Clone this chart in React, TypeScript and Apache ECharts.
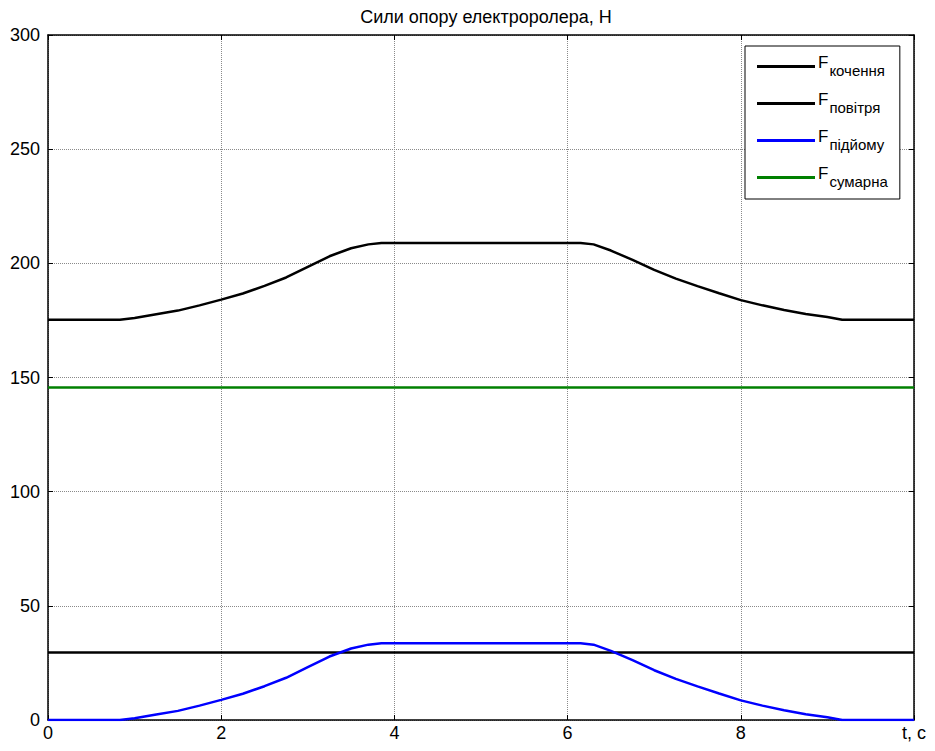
import React, { useEffect, useRef } from "react";
import * as echarts from "echarts";

const FONT = "'Liberation Sans', Arial, sans-serif";

const titleText = "Сили опору електроролера, Н";
const legendNames = ["кочення", "повітря", "підйому", "сумарна"];
const xTicks = [0, 2, 4, 6, 8, 10];
const xLastLabel = "t, c";

const tEnds = [0, 10];
const rollingForce = [29.6, 29.6];
const greenForce = [145.6, 145.6];

const tCurve = [
  0, 0.5, 0.83, 1.0, 1.25, 1.5, 1.75, 2.0, 2.25, 2.5, 2.75, 3.0, 3.25, 3.5, 3.7, 3.85,
  6.15, 6.3, 6.5, 6.75, 7.0, 7.25, 7.5, 7.75, 8.0, 8.25, 8.5, 8.75, 9.0, 9.17, 9.5, 10,
];
const liftForce = [
  0, 0, 0, 0.8, 2.4, 4.0, 6.3, 8.8, 11.5, 14.8, 18.5, 23.2, 27.8, 31.3, 33.0, 33.6,
  33.6, 33.0, 30.3, 26.2, 21.8, 18.0, 14.7, 11.6, 8.6, 6.3, 4.3, 2.5, 1.2, 0, 0, 0,
];
const totalCurve = [
  175.3, 175.3, 175.3, 176.1, 177.7, 179.3, 181.6, 184.1, 186.8, 190.1, 193.8, 198.5, 203.1, 206.6, 208.3, 208.9,
  208.9, 208.3, 205.6, 201.5, 197.1, 193.3, 190.0, 186.9, 183.9, 181.6, 179.6, 177.8, 176.5, 175.3, 175.3, 175.3,
];

const colors = ["#000000", "#000000", "#0000ff", "#008000"];

function pairs(xs: number[], ys: number[]) {
  return xs.map((x, i) => [x, ys[i]]);
}

export default function App() {
  const ref = useRef<HTMLDivElement>(null);
  useEffect(() => {
    if (!ref.current) return;
    const chart = echarts.init(ref.current, undefined, { renderer: "svg" });
    const axisLine = { show: true, onZero: false, lineStyle: { color: "#000", width: 1.5 } };
    const axisTick = { show: true, inside: true, length: 5, lineStyle: { color: "#000", width: 1 } };
    const splitLine = { show: true, lineStyle: { color: "#8a8a8a", type: [1, 1] as any, width: 1 } };
    const seriesData = [
      pairs(tEnds, rollingForce),
      pairs(tCurve, totalCurve),
      pairs(tCurve, liftForce),
      pairs(tEnds, greenForce),
    ];
    chart.setOption({
      animation: false,
      backgroundColor: "#fff",
      textStyle: { fontFamily: FONT },
      title: {
        text: titleText,
        left: 481,
        textAlign: "center",
        top: 3,
        textStyle: { fontFamily: FONT, fontSize: 18, fontWeight: "normal", color: "#000" },
      },
      grid: { left: 48, right: 21, top: 35, bottom: 31, containLabel: false },
      legend: {
        orient: "vertical",
        left: 745,
        top: 46,
        backgroundColor: "#fff",
        borderColor: "#000",
        borderWidth: 1,
        borderRadius: 0,
        padding: [8, 12, 9, 12],
        itemGap: 12,
        itemWidth: 58,
        itemHeight: 3,
        icon: "rect",
        data: legendNames,
        formatter: (name: string) => `{f|F}{s|${name}}`,
        textStyle: {
          color: "#000",
          fontFamily: FONT,
          padding: [0, 0, 0, -2],
          rich: {
            f: { fontSize: 17, fontFamily: FONT, color: "#000", lineHeight: 16, padding: [0, 0, 8, 0] },
            s: { fontSize: 15, fontFamily: FONT, color: "#000", lineHeight: 16, padding: [8, 0, 0, 1] },
          },
        },
      },
      xAxis: [
        {
          type: "value",
          min: 0,
          max: 10,
          interval: 2,
          position: "bottom",
          axisLine,
          axisTick,
          splitLine,
          axisLabel: {
            color: "#000",
            fontSize: 18,
            fontFamily: FONT,
            margin: 4,
            showMaxLabel: true,
            showMinLabel: true,
            customValues: xTicks,
            formatter: (v: number) => (v === 10 ? xLastLabel : String(v)),
          },
        },
        {
          type: "value",
          min: 0,
          max: 10,
          interval: 2,
          position: "top",
          axisLine,
          axisTick,
          splitLine: { show: false },
          axisLabel: { show: false },
        },
      ],
      yAxis: [
        {
          type: "value",
          min: 0,
          max: 300,
          interval: 50,
          position: "left",
          axisLine,
          axisTick,
          splitLine,
          axisLabel: { color: "#000", fontSize: 18, fontFamily: FONT, margin: 8 },
        },
        {
          type: "value",
          min: 0,
          max: 300,
          interval: 50,
          position: "right",
          axisLine,
          axisTick,
          splitLine: { show: false },
          axisLabel: { show: false },
        },
      ],
      series: legendNames.map((name, i) => ({
        name,
        type: "line",
        xAxisIndex: 0,
        yAxisIndex: 0,
        data: seriesData[i],
        showSymbol: false,
        symbol: "none",
        smooth: false,
        color: colors[i],
        lineStyle: { color: colors[i], width: 2.5 },
        itemStyle: { color: colors[i] },
        z: 2 + i,
      })),
    });
    return () => chart.dispose();
  }, []);
  return (
    <div
      ref={ref}
      style={{ position: "fixed", left: 0, top: 0, width: 935, height: 751, background: "#fff" }}
    />
  );
}
